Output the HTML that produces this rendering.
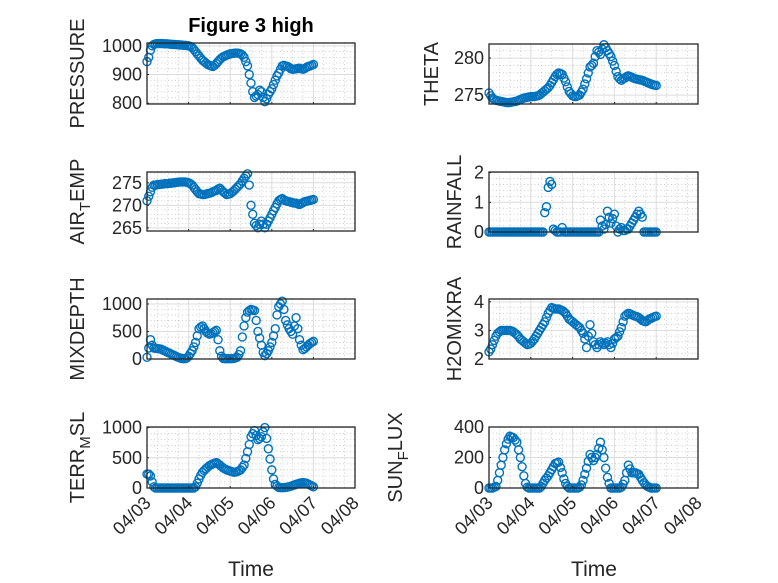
<!DOCTYPE html>
<html><head><meta charset="utf-8"><style>
body{margin:0;background:#fff}
svg{display:block;font-family:"Liberation Sans","DejaVu Sans",sans-serif}
</style></head><body>
<svg id="fig" width="778" height="583" viewBox="0 0 778 583" xmlns="http://www.w3.org/2000/svg">
<rect width="778" height="583" fill="#fff"/>
<text x="251" y="32" text-anchor="middle" font-size="20" font-weight="bold" fill="#000">Figure 3 high</text>
<text x="251" y="576" text-anchor="middle" font-size="21" fill="#262626">Time</text>
<text x="594" y="576" text-anchor="middle" font-size="21" fill="#262626">Time</text>
</svg>
<script>
const xTickLabels=["04/03","04/04","04/05","04/06","04/07","04/08"];
const pressure=[945,960,985,1000,1005,1007,1008,1008,1008,1008,1007,1007,1007,1006,1006,1005,1005,1004,1004,1003,1003,1002,1002,1001,1000,998,995,988,980,972,965,957,950,945,940,935,932,930,928,932,938,945,952,958,962,965,968,970,972,973,974,975,975,974,972,968,960,945,930,900,870,840,820,825,830,845,840,820,805,815,830,840,850,865,880,895,905,918,930,932,930,928,925,920,918,919,920,921,922,920,918,921,925,928,930,932,935];
const airTemp=[271,272,273,274,274.5,274.5,274.6,274.6,274.7,274.7,274.8,274.8,274.8,274.9,274.9,275,275,275.1,275.1,275.2,275.2,275.2,275.2,275.1,275,274.8,274.5,274,273.5,273,272.6,272.5,272.4,272.4,272.5,272.6,272.7,272.8,273,273.2,273.3,273.6,273.8,273.4,273,272.7,272.4,272.5,272.6,272.9,273.2,273.6,274,274.4,274.8,275.4,276,276.5,277,274.5,270,268,266,265.5,265,265.8,266.5,265.8,265,265.8,266.5,267.2,268,268.8,269.5,270.3,271,271.3,271.5,271.2,271,270.9,270.8,270.7,270.6,270.5,270.5,270.3,270.2,270.4,270.6,270.8,270.9,271,271.1,271.2,271.3];
const mixDepth=[30,200,350,250,200,195,190,185,180,165,150,135,120,105,90,75,60,45,30,20,10,7,5,20,50,100,150,220,300,420,550,580,600,550,500,470,450,460,480,500,520,350,150,50,10,5,5,5,5,5,10,20,30,80,150,400,600,750,850,880,900,890,880,700,500,380,250,120,60,100,150,220,300,420,550,800,950,1000,1050,900,700,620,550,500,450,600,750,550,350,250,170,190,220,250,280,300,320];
const terrMsl=[230,230,200,100,20,0,0,0,0,0,0,0,0,0,0,0,0,0,0,0,0,0,0,0,0,0,0,0,20,80,150,210,260,290,320,345,370,385,400,410,420,400,380,355,330,315,300,290,280,270,260,265,270,285,300,340,380,490,600,720,850,900,950,870,800,820,850,930,1000,820,650,480,300,150,60,30,10,8,5,8,10,15,20,30,40,50,60,70,80,85,90,85,80,65,50,35,20];
const theta=[275.3,274.9,274.6,274.4,274.3,274.25,274.2,274.15,274.1,274.05,274,274,274,274.05,274.1,274.15,274.2,274.3,274.4,274.5,274.6,274.65,274.7,274.75,274.8,274.8,274.8,274.85,274.9,275,275.2,275.4,275.6,275.8,276,276.3,276.7,277.1,277.5,277.8,278,277.9,277.8,277.3,276.8,276.1,275.5,275.2,274.9,274.8,274.8,274.9,275,275.4,275.8,276.5,277.2,278,278.8,279,279.3,280.2,281,280.8,280.5,281.2,281.8,281.4,281,280.6,280.2,279.6,279,278.2,277.5,277.2,277,277.2,277.3,277.5,277.6,277.5,277.4,277.3,277.2,277.15,277.1,277.05,277,276.9,276.8,276.7,276.6,276.5,276.4,276.35,276.3];
const rainfall=[0,0,0,0,0,0,0,0,0,0,0,0,0,0,0,0,0,0,0,0,0,0,0,0,0,0,0,0,0,0,0,0,0.65,0.85,1.5,1.7,1.6,0.1,0.05,0,0,0,0.15,0,0,0,0,0,0,0,0,0,0,0,0,0,0,0,0,0,0,0,0,0,0.4,0.2,0.1,0.25,0.7,0.5,0.3,0.45,0.6,0.2,0,0.1,0.15,0.05,0.05,0.1,0.1,0.2,0.3,0.4,0.5,0.6,0.7,0.6,0.5,0,0,0,0,0,0,0,0];
const h2oMix=[2.25,2.35,2.5,2.65,2.8,2.9,2.95,3,3,3,3,3,3,2.98,2.95,2.9,2.85,2.78,2.7,2.65,2.6,2.55,2.5,2.52,2.55,2.62,2.7,2.8,2.9,3,3.1,3.2,3.3,3.45,3.6,3.7,3.8,3.78,3.75,3.75,3.75,3.72,3.7,3.65,3.6,3.5,3.4,3.35,3.3,3.25,3.2,3.15,3.1,3,2.9,2.7,2.4,2.8,3.2,2.9,2.6,2.5,2.4,2.5,2.6,2.55,2.5,2.55,2.6,2.5,2.4,2.55,2.7,2.75,2.8,2.95,3.1,3.3,3.5,3.55,3.6,3.58,3.55,3.52,3.5,3.48,3.45,3.4,3.35,3.32,3.3,3.35,3.4,3.42,3.45,3.48,3.5];
const sunFlux=[0,0,0,5,10,50,100,150,200,250,290,320,340,335,330,315,300,250,200,140,80,30,5,0,0,0,0,0,0,0,10,30,50,65,80,100,120,140,160,165,170,135,100,60,30,10,0,0,0,0,0,0,5,20,50,90,130,175,220,200,180,200,220,260,300,250,200,130,70,30,0,0,0,0,0,0,5,25,50,100,150,125,100,100,100,95,90,70,50,35,20,10,5,0,0,0,0];
const pressureTicks=[800,900,1000], airTempTicks=[265,270,275], mixDepthTicks=[0,500,1000], terrTicks=[0,500,1000];
const thetaTicks=[275,280], rainTicks=[0,1,2], h2oTicks=[2,3,4], sunTicks=[0,200,400];

const NS="http://www.w3.org/2000/svg";
const svg=document.getElementById('fig');
function mk(tag,attrs,parent){const e=document.createElementNS(NS,tag);for(const k in attrs)e.setAttribute(k,attrs[k]);(parent||svg).appendChild(e);return e;}
const panels=[
 {name:'pressure',x0:147,x1:355,y0:43,y1:104,lim:[797,1010],ticks:pressureTicks,minor:20,data:pressure,label:['PRESSURE'],lx:84},
 {name:'air-temp',x0:147,x1:355,y0:172,y1:231,lim:[264.3,277.4],ticks:airTempTicks,minor:1,data:airTemp,label:['AIR','T','EMP'],lx:84},
 {name:'mixdepth',x0:147,x1:355,y0:299,y1:359,lim:[0,1090],ticks:mixDepthTicks,minor:100,data:mixDepth,label:['MIXDEPTH'],lx:84},
 {name:'terr-msl',x0:147,x1:355,y0:427,y1:488,lim:[0,1010],ticks:terrTicks,minor:100,data:terrMsl,label:['TERR','M','SL'],lx:84},
 {name:'theta',x0:489,x1:698,y0:44,y1:104,lim:[273.8,281.9],ticks:thetaTicks,minor:1,data:theta,label:['THETA'],lx:438},
 {name:'rainfall',x0:489,x1:698,y0:172,y1:232,lim:[0,2.02],ticks:rainTicks,minor:0.2,data:rainfall,label:['RAINFALL'],lx:461},
 {name:'h2omixra',x0:489,x1:698,y0:299,y1:359,lim:[2,4.1],ticks:h2oTicks,minor:0.2,data:h2oMix,label:['H2OMIXRA'],lx:461},
 {name:'sun-flux',x0:489,x1:698,y0:427,y1:488,lim:[0,400],ticks:sunTicks,minor:40,data:sunFlux,label:['SUN','F','LUX'],lx:402}
];
panels.forEach((p,pi)=>{
 const g=mk('g',{});
 
 
 const xs=h=>p.x0+(h/120)*(p.x1-p.x0);
 const ys=v=>p.y1-(v-p.lim[0])/(p.lim[1]-p.lim[0])*(p.y1-p.y0);
 for(let h=6;h<120;h+=6){if(h%24===0)continue;mk('line',{x1:xs(h),x2:xs(h),y1:p.y0,y2:p.y1,stroke:'#bbb','stroke-width':0.7,'stroke-dasharray':'1,2.5'},g);}
 for(let v=Math.ceil(p.lim[0]/p.minor)*p.minor;v<p.lim[1];v+=p.minor){if(p.ticks.some(t=>Math.abs(t-v)<1e-6))continue;mk('line',{x1:p.x0,x2:p.x1,y1:ys(v),y2:ys(v),stroke:'#bbb','stroke-width':0.7,'stroke-dasharray':'1,2.5'},g);}
 for(let d=1;d<5;d++){mk('line',{x1:xs(d*24),x2:xs(d*24),y1:p.y0,y2:p.y1,stroke:'#dcdcdc','stroke-width':1},g);}
 p.ticks.forEach(t=>{const y=ys(t);mk('line',{x1:p.x0,x2:p.x1,y1:y,y2:y,stroke:'#dcdcdc','stroke-width':1},g);
  const tl=mk('text',{x:p.x0-5,y:y+6,'text-anchor':'end','font-size':18,fill:'#262626'},g);tl.textContent=t;
  
  
  mk('line',{x1:p.x0,x2:p.x0+2,y1:y,y2:y,stroke:'#262626'},g);});
 p.data.forEach((v,i)=>{const c=mk('circle',{cx:xs(i),cy:ys(v),r:4,fill:'none',stroke:'#0072BD','stroke-width':1.4},g);
  
  });
 mk('rect',{x:p.x0,y:p.y0,width:p.x1-p.x0,height:p.y1-p.y0,fill:'none',stroke:'#262626','stroke-width':1.3},g);
 for(let d=0;d<=5;d++){mk('line',{x1:xs(d*24),x2:xs(d*24),y1:p.y1,y2:p.y1-2,stroke:'#262626'},g);}
 const cy=(p.y0+p.y1)/2;
 const yl=mk('text',{x:p.lx,y:cy,'text-anchor':'middle','font-size':20,fill:'#262626',transform:'rotate(-90 '+p.lx+' '+cy+')'},g);
 
 
 if(p.label.length===1){yl.textContent=p.label[0];}
 else{const a=mk('tspan',{},yl);a.textContent=p.label[0];const b=mk('tspan',{dy:6,'font-size':15},yl);b.textContent=p.label[1];const c=mk('tspan',{dy:-6},yl);c.textContent=p.label[2];}
 if(pi===3||pi===7){xTickLabels.forEach((s,d)=>{const x=xs(d*24)+5,y=p.y1+16;
  const t=mk('text',{x:x,y:y,'text-anchor':'end','font-size':18,fill:'#262626',transform:'rotate(-45 '+x+' '+y+')'},g);t.textContent=s;
  
  });}
});
</script>
</body></html>
